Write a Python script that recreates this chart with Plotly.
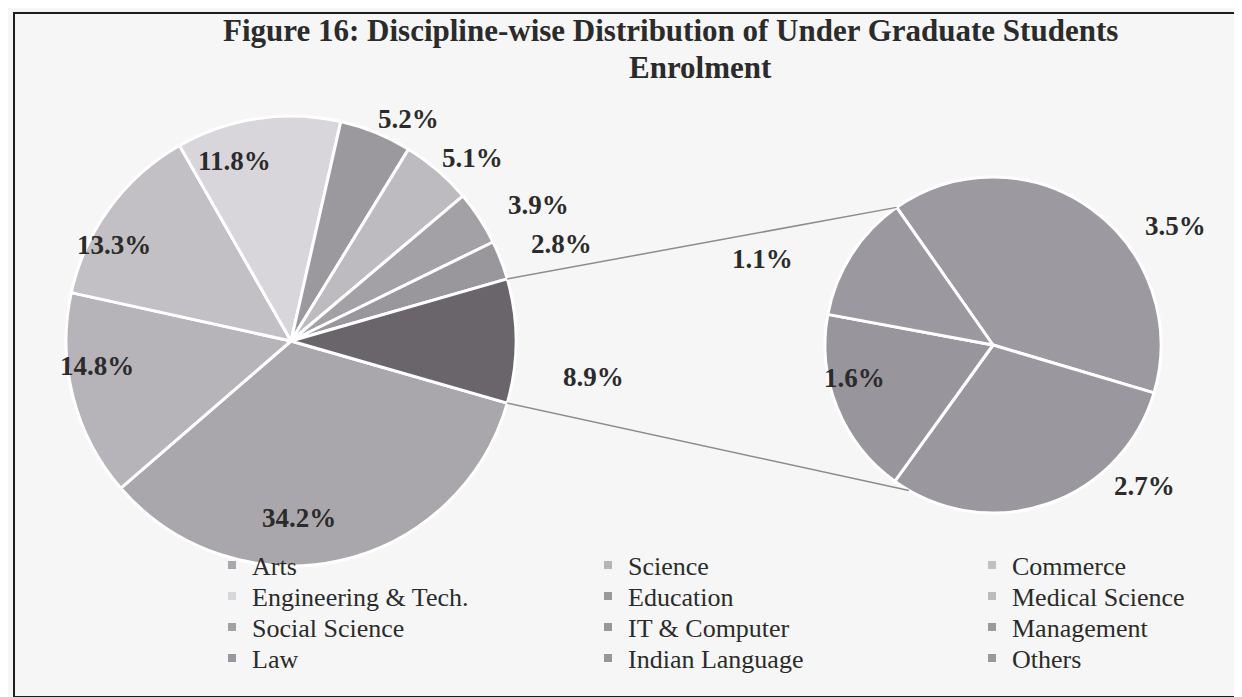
import math
import plotly.graph_objects as go

# ---------------- data ----------------
main_labels = ["Arts", "Science", "Commerce", "Engineering & Tech.", "Education",
               "Medical Science", "Social Science", "IT & Computer"]
main_values = [34.2, 14.8, 13.3, 11.8, 5.2, 5.1, 3.9, 2.8]
sub_labels = ["Management", "Law", "Indian Language", "Others"]
sub_values = [3.5, 2.7, 1.6, 1.1]
combined_value = round(sum(sub_values), 1)          # the "Other" slice of the main pie (8.9)

legend_labels = ["Arts", "Science", "Commerce",
                 "Engineering & Tech.", "Education", "Medical Science",
                 "Social Science", "IT & Computer", "Management",
                 "Law", "Indian Language", "Others"]

title_line1 = "Figure 16: Discipline-wise Distribution of Under Graduate Students"
title_line2 = "Enrolment"

# ---------------- styling ----------------
W, H = 1242, 697
colors = {
    "Arts": "#aaa7ac", "Science": "#b6b4b8", "Commerce": "#c2c0c4",
    "Engineering & Tech.": "#d8d6da", "Education": "#9c999e",
    "Medical Science": "#bdbbbf", "Social Science": "#a4a1a6",
    "IT & Computer": "#9a979c", "Management": "#9c99a0", "Law": "#9a979e",
    "Indian Language": "#98959c", "Others": "#9b989f",
}
combined_color = "#6a656b"
FONT = "Liberation Serif, Times New Roman, serif"
TXT = "#2b2b2b"

# pie geometry in pixels
C1, R1 = (283, 333), 225      # main pie centre / radius
C2, R2 = (985, 337), 168      # secondary pie centre / radius
sub_rotation = 325            # clockwise degrees from 12 o'clock

# label placement (angle offset from slice middle, radial factor)
main_lab_off = [8.5, 4.6, -9, -8, 7.6, 6, 6, 3]
main_lab_r = [0.82, 0.85, 0.86, 0.80, 1.10, 1.14, 1.26, 1.29]
comb_lab_off, comb_lab_r = 8, 1.38
sub_lab_off = [23.4, -27.8, 5.3, -13.4]
sub_lab_r = [1.30, 1.28, 0.83, 1.42]
connector_sub_angles = [325, 210]
LAB_SIZE = 27
LAB_DX, LAB_DY = -5, -7       # glyph-centre correction for annotation boxes

# legend grid (marker-centre based)
leg_cols = [204, 580, 964]
leg_rows = [557, 588, 619, 650]


def px(x):
    return x / W


def py(y):
    return 1 - y / H


def pt(center, r, ang):
    return center[0] + r * math.sin(math.radians(ang)), center[1] - r * math.cos(math.radians(ang))


total_main = sum(main_values) + combined_value
main_rotation = 90 + combined_value / total_main * 360 / 2

fig = go.Figure()

fig.add_trace(go.Pie(
    labels=main_labels + ["Other"], values=main_values + [combined_value],
    sort=False, direction="clockwise", rotation=main_rotation,
    marker=dict(colors=[colors[l] for l in main_labels] + [combined_color],
                line=dict(color="white", width=3)),
    textinfo="none", hoverinfo="label+value", showlegend=False,
    domain=dict(x=[px(C1[0] - R1), px(C1[0] + R1)], y=[py(C1[1] + R1), py(C1[1] - R1)]),
))
fig.add_trace(go.Pie(
    labels=sub_labels, values=sub_values,
    sort=False, direction="clockwise", rotation=sub_rotation,
    marker=dict(colors=[colors[l] for l in sub_labels],
                line=dict(color="white", width=3)),
    textinfo="none", hoverinfo="label+value", showlegend=False,
    domain=dict(x=[px(C2[0] - R2), px(C2[0] + R2)], y=[py(C2[1] + R2), py(C2[1] - R2)]),
))

annotations = []


def add_label(x, y, v):
    annotations.append(dict(x=px(x + LAB_DX), y=py(y + LAB_DY), text=f"<b>{v:.1f}%</b>",
                            showarrow=False, xref="paper", yref="paper",
                            xanchor="center", yanchor="middle",
                            font=dict(family=FONT, size=LAB_SIZE, color=TXT)))


# main pie labels
cum = 0
for i, v in enumerate(main_values):
    mid = main_rotation + (cum + v / 2) / total_main * 360
    cum += v
    add_label(*pt(C1, R1 * main_lab_r[i], mid + main_lab_off[i]), v)
mid = main_rotation + (cum + combined_value / 2) / total_main * 360
add_label(*pt(C1, R1 * comb_lab_r, mid + comb_lab_off), combined_value)
# secondary pie labels
cum = 0
tot_sub = sum(sub_values)
for i, v in enumerate(sub_values):
    mid = sub_rotation + (cum + v / 2) / tot_sub * 360
    cum += v
    add_label(*pt(C2, R2 * sub_lab_r[i], mid + sub_lab_off[i]), v)

# title (two centred lines)
annotations.append(dict(x=px(662), y=py(22), text=f"<b>{title_line1}</b>", showarrow=False,
                        xref="paper", yref="paper", xanchor="center", yanchor="middle",
                        borderpad=0, font=dict(family=FONT, size=31, color=TXT)))
annotations.append(dict(x=px(692), y=py(60), text=f"<b>{title_line2}</b>", showarrow=False,
                        xref="paper", yref="paper", xanchor="center", yanchor="middle",
                        borderpad=0, font=dict(family=FONT, size=31, color=TXT)))

# connector lines between the "Other" slice and the secondary pie
shapes = []
comb_start = main_rotation - combined_value / total_main * 360
for a_main, a_sub in zip([comb_start, main_rotation], connector_sub_angles):
    x0, y0 = pt(C1, R1, a_main)
    x1, y1 = pt(C2, R2, a_sub)
    shapes.append(dict(type="line", xref="paper", yref="paper", x0=px(x0), y0=py(y0),
                       x1=px(x1), y1=py(y1), line=dict(color="#8c8c8c", width=1.5)))
# frame
shapes.append(dict(type="rect", xref="paper", yref="paper", x0=px(6), x1=px(1237),
                   y0=py(689), y1=py(5), line=dict(color="#1e1e1e", width=2)))

# legend: one legend box per entry, laid out on a 3-column grid
legend_layout = {}
for k, lab in enumerate(legend_labels):
    name = "legend" if k == 0 else f"legend{k + 1}"
    fig.add_trace(go.Scatter(x=[None], y=[None], mode="markers", name=lab,
                             marker=dict(symbol="square", size=8, color=colors[lab]),
                             legend=name, hoverinfo="skip"))
    legend_layout[name] = dict(x=px(leg_cols[k % 3]), y=py(leg_rows[k // 3]),
                               xanchor="left", yanchor="middle", orientation="v",
                               font=dict(family=FONT, size=26, color=TXT), itemwidth=30,
                               bgcolor="rgba(0,0,0,0)", borderwidth=0)

fig.update_layout(
    width=W, height=H, margin=dict(l=0, r=0, t=0, b=0),
    paper_bgcolor="#f6f6f6", plot_bgcolor="rgba(0,0,0,0)",
    xaxis=dict(visible=False), yaxis=dict(visible=False),
    annotations=annotations, shapes=shapes,
    **legend_layout,
)

fig.write_html("out.html")
